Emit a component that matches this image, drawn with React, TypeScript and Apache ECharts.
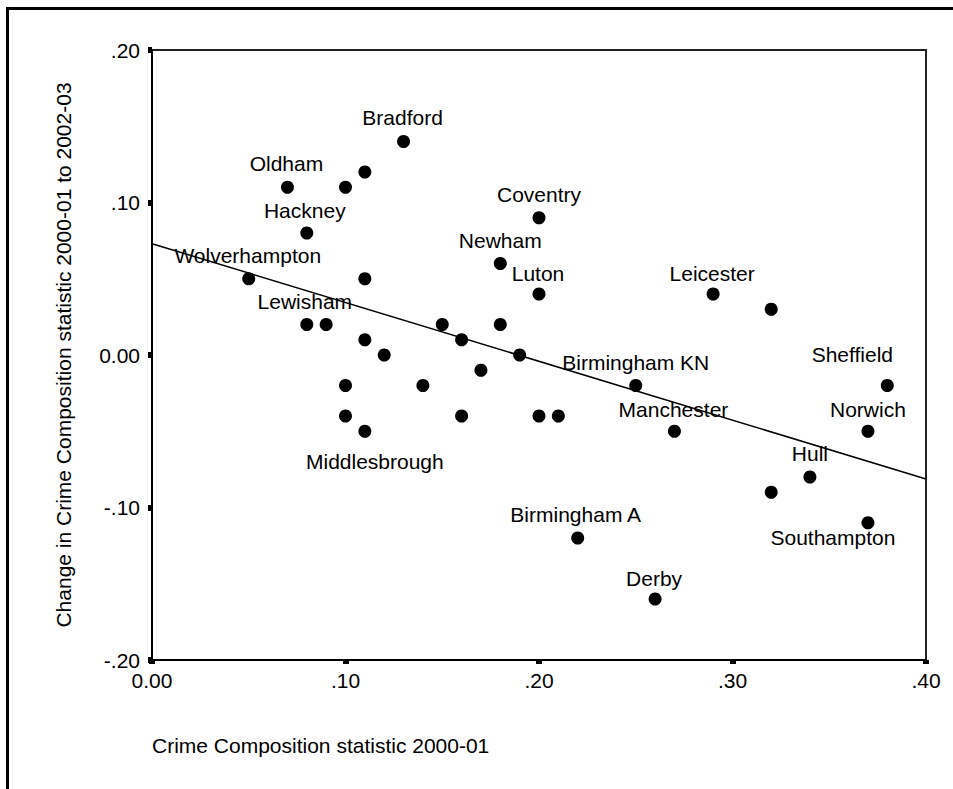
import React, { useEffect, useRef } from "react";
import * as echarts from "echarts";

const cityNames = [
  "Wolverhampton", "Oldham", "Hackney", "Lewisham", "", "", "", "", "", "", "",
  "Middlesbrough", "", "Bradford", "", "", "", "", "", "", "Newham", "",
  "Coventry", "Luton", "", "", "Birmingham A", "Birmingham KN", "Derby",
  "Manchester", "Leicester", "", "", "Hull", "Norwich", "Southampton", "Sheffield",
];
const crime2000 = [
  0.05, 0.07, 0.08, 0.08, 0.09, 0.10, 0.10, 0.10, 0.11, 0.11, 0.11,
  0.11, 0.12, 0.13, 0.14, 0.15, 0.16, 0.16, 0.17, 0.18, 0.18, 0.19,
  0.20, 0.20, 0.20, 0.21, 0.22, 0.25, 0.26,
  0.27, 0.29, 0.32, 0.32, 0.34, 0.37, 0.37, 0.38,
];
const changeTo2002 = [
  0.05, 0.11, 0.08, 0.02, 0.02, 0.11, -0.02, -0.04, 0.12, 0.05, 0.01,
  -0.05, 0.0, 0.14, -0.02, 0.02, 0.01, -0.04, -0.01, 0.02, 0.06, 0.0,
  0.09, 0.04, -0.04, -0.04, -0.12, -0.02, -0.16,
  -0.05, 0.04, 0.03, -0.09, -0.08, -0.05, -0.11, -0.02,
];
const fitLineX = [0.0, 0.4];
const fitLineY = [0.073, -0.0813];
const xTicks = [0.0, 0.1, 0.2, 0.3, 0.4];
const yTicks = [-0.2, -0.1, 0.0, 0.1, 0.2];

const labelOffsets: Record<string, [number, number]> = {
  Wolverhampton: [-1, -23],
  Oldham: [-1, -24],
  Hackney: [-2, -23],
  Lewisham: [-2, -23],
  Middlesbrough: [10, 30],
  Bradford: [-1, -24],
  Newham: [0, -23],
  Coventry: [0, -23],
  Luton: [-1, -21],
  "Birmingham A": [-2, -24],
  "Birmingham KN": [0, -23],
  Derby: [-1, -21],
  Manchester: [-1, -22],
  Leicester: [-1, -21],
  Hull: [0, -24],
  Norwich: [0, -22],
  Southampton: [-35, 15],
  Sheffield: [-35, -31],
};

const FONT = "Liberation Sans, Arial, Helvetica, sans-serif";
const FS = 21;

function fmt(v: number) {
  if (Math.abs(v) < 1e-9) return "0.00";
  const s = Math.abs(v).toFixed(2).replace(/^0/, "");
  return (v < 0 ? "-" : "") + s;
}

export default function App() {
  const ref = useRef<HTMLDivElement>(null);
  useEffect(() => {
    if (!ref.current) return;
    const chart = echarts.init(ref.current, null, { renderer: "svg" });
    const points = crime2000.map((x, i) => {
      const name = cityNames[i];
      return {
        name,
        value: [x, changeTo2002[i]],
        label: {
          show: name !== "",
          formatter: name,
        },
      };
    });
    chart.setOption({
      animation: false,
      backgroundColor: "#fff",
      textStyle: { fontFamily: FONT },
      grid: {
        left: 152,
        right: 27,
        top: 50,
        bottom: 129,
        show: true,
        borderColor: "#222",
        borderWidth: 2,
        containLabel: false,
      },
      xAxis: {
        type: "value",
        min: xTicks[0],
        max: xTicks[xTicks.length - 1],
        interval: 0.1,
        axisLine: { show: true, onZero: false, lineStyle: { color: "#000", width: 2 } },
        axisTick: { show: true, length: 4, lineStyle: { color: "#000", width: 6 } },
        axisLabel: {
          color: "#000",
          fontSize: FS,
          fontFamily: FONT,
          margin: 10,
          formatter: (v: number) => fmt(v),
        },
        splitLine: { show: false },
      },
      yAxis: {
        type: "value",
        min: yTicks[0],
        max: yTicks[yTicks.length - 1],
        interval: 0.1,
        axisLine: { show: true, onZero: false, lineStyle: { color: "#000", width: 2 } },
        axisTick: { show: true, length: 4, lineStyle: { color: "#000", width: 6 } },
        axisLabel: {
          color: "#000",
          fontSize: FS,
          fontFamily: FONT,
          margin: 12,
          formatter: (v: number) => fmt(v),
        },
        splitLine: { show: false },
      },
      graphic: [
        {
          type: "line",
          shape: { x1: 7.5, y1: 8.5, x2: 7.5, y2: 800 },
          style: { stroke: "#000", lineWidth: 3 },
        },
        {
          type: "line",
          shape: { x1: 6, y1: 8.5, x2: 960, y2: 8.5 },
          style: { stroke: "#000", lineWidth: 3 },
        },
        {
          type: "text",
          x: 152,
          y: 745,
          style: {
            text: "Crime Composition statistic 2000-01",
            fill: "#000",
            fontSize: FS,
            fontFamily: FONT,
            textAlign: "left",
            textVerticalAlign: "middle",
          },
        },
        {
          type: "text",
          x: 63,
          y: 355,
          rotation: Math.PI / 2,
          style: {
            text: "Change in Crime Composition statistic 2000-01 to 2002-03",
            fill: "#000",
            fontSize: FS,
            fontFamily: FONT,
            textAlign: "center",
            textVerticalAlign: "middle",
          },
        },
      ],
      series: [
        {
          type: "line",
          data: fitLineX.map((x, i) => [x, fitLineY[i]]),
          symbol: "none",
          lineStyle: { color: "#000", width: 1.5 },
          z: 3,
          silent: true,
        },
        {
          type: "scatter",
          data: points,
          symbol: "circle",
          symbolSize: 13,
          itemStyle: { color: "#000", opacity: 1 },
          label: {
            position: "inside",
            color: "#000",
            fontSize: FS,
            fontFamily: FONT,
          },
          labelLayout: (params: any) => {
            const name = cityNames[params.dataIndex];
            const off = labelOffsets[name] || [0, -23];
            return { dx: off[0], dy: off[1], hideOverlap: false };
          },
          z: 4,
        },
      ],
    });
    return () => chart.dispose();
  }, []);
  return (
    <div
      ref={ref}
      style={{ position: "fixed", left: 0, top: 0, width: 953, height: 789 }}
    />
  );
}
